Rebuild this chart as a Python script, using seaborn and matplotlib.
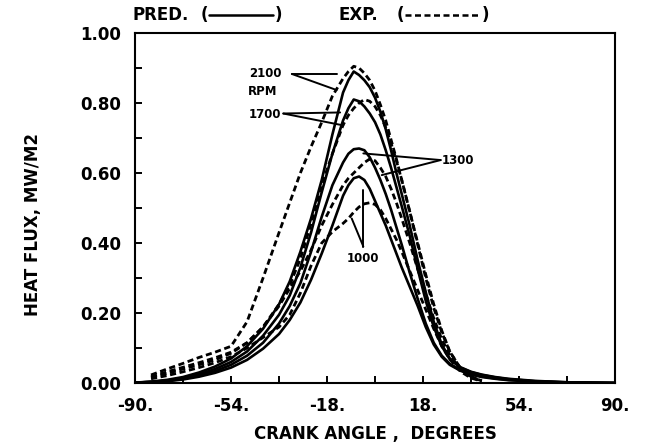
import numpy as np
import pandas as pd
import seaborn as sns
import matplotlib
matplotlib.use("Agg")
from matplotlib import pyplot as plt
from matplotlib.lines import Line2D
from matplotlib.ticker import MultipleLocator, FixedLocator, FuncFormatter

# crank angle grid (deg) shared by all curves
angle = [-90, -84, -78, -72, -66, -60, -54, -48, -42, -36, -32, -28, -24, -20, -16,
         -12, -10, -8, -6, -4, -2, 0, 2, 4, 6, 8, 10, 13, 16, 19, 22, 25, 28, 32,
         36, 40, 45, 50, 60, 72, 90]

# predicted heat flux, MW/m2 (solid)
pred_2100 = [0.001, 0.004, 0.009, 0.017, 0.03, 0.047, 0.07, 0.105, 0.155, 0.225, 0.29,
             0.375, 0.47, 0.58, 0.71, 0.83, 0.865, 0.89, 0.88, 0.865, 0.845, 0.815, 0.775,
             0.725, 0.665, 0.60, 0.54, 0.45, 0.35, 0.26, 0.175, 0.11, 0.07, 0.045, 0.032,
             0.024, 0.017, 0.012, 0.006, 0.002, 0.0]
pred_1700 = [0.001, 0.003, 0.007, 0.014, 0.025, 0.04, 0.06, 0.09, 0.135, 0.195, 0.25,
             0.33, 0.43, 0.545, 0.655, 0.75, 0.785, 0.81, 0.805, 0.79, 0.77, 0.745, 0.71,
             0.665, 0.615, 0.56, 0.505, 0.42, 0.325, 0.235, 0.16, 0.105, 0.068, 0.044, 0.031,
             0.023, 0.016, 0.011, 0.005, 0.002, 0.0]
pred_1300 = [0.001, 0.003, 0.006, 0.012, 0.021, 0.034, 0.052, 0.078, 0.115, 0.17, 0.22,
             0.285, 0.375, 0.475, 0.565, 0.63, 0.655, 0.668, 0.67, 0.665, 0.645, 0.615, 0.58,
             0.54, 0.495, 0.445, 0.395, 0.315, 0.24, 0.17, 0.115, 0.078, 0.055, 0.037, 0.026,
             0.019, 0.013, 0.009, 0.004, 0.0015, 0.0]
pred_1000 = [0.001, 0.002, 0.005, 0.01, 0.018, 0.029, 0.044, 0.066, 0.098, 0.14, 0.18,
             0.23, 0.295, 0.37, 0.45, 0.535, 0.565, 0.585, 0.59, 0.58, 0.555, 0.52, 0.485,
             0.45, 0.41, 0.37, 0.33, 0.275, 0.22, 0.16, 0.11, 0.075, 0.052, 0.035, 0.024,
             0.017, 0.012, 0.008, 0.004, 0.001, 0.0]

# measured heat flux (dashed)
nan = np.nan
exp_2100 = [nan, 0.023, 0.04, 0.056, 0.073, 0.088, 0.105, 0.175, 0.30, 0.43, 0.515,
            0.60, 0.675, 0.745, 0.82, 0.87, 0.89, 0.905, 0.90, 0.885, 0.865, 0.835, 0.795,
            0.75, 0.695, 0.64, 0.58, 0.49, 0.395, 0.30, 0.215, 0.145, 0.09, 0.042, 0.018,
            0.006, nan, nan, nan, nan, nan]
exp_1700 = [nan, 0.018, 0.032, 0.045, 0.058, 0.072, 0.088, 0.115, 0.16, 0.225, 0.28,
            0.355, 0.455, 0.565, 0.655, 0.737, 0.765, 0.785, 0.80, 0.81, 0.805, 0.79, 0.765,
            0.73, 0.685, 0.635, 0.58, 0.49, 0.40, 0.31, 0.225, 0.15, 0.09, 0.042, 0.018,
            0.006, nan, nan, nan, nan, nan]
exp_1300 = [nan, 0.016, 0.027, 0.04, 0.052, 0.066, 0.085, 0.115, 0.16, 0.22, 0.27,
            0.32, 0.38, 0.45, 0.51, 0.565, 0.585, 0.60, 0.615, 0.63, 0.64, 0.635, 0.615,
            0.59, 0.555, 0.515, 0.47, 0.40, 0.325, 0.255, 0.185, 0.125, 0.08, 0.04, 0.017,
            0.005, nan, nan, nan, nan, nan]
exp_1000 = [nan, 0.012, 0.021, 0.032, 0.044, 0.058, 0.075, 0.10, 0.13, 0.16, 0.195,
            0.257, 0.335, 0.40, 0.432, 0.456, 0.47, 0.488, 0.503, 0.512, 0.515, 0.51, 0.495,
            0.47, 0.44, 0.41, 0.375, 0.32, 0.265, 0.21, 0.155, 0.105, 0.068, 0.033, 0.014,
            0.005, nan, nan, nan, nan, nan]

pred = {"2100": pred_2100, "1700": pred_1700, "1300": pred_1300, "1000": pred_1000}
expd = {"2100": exp_2100, "1700": exp_1700, "1300": exp_1300, "1000": exp_1000}

sns.set_style("ticks")
plt.rcParams['font.family'] = ['DejaVu Sans']
plt.rcParams['font.weight'] = 'bold'
for k in ['text.color', 'axes.labelcolor', 'xtick.color', 'ytick.color', 'axes.edgecolor']:
    plt.rcParams[k] = 'black'

fig = plt.figure(figsize=(6.47, 4.42), dpi=100)
ax = fig.add_axes([0.2087, 0.1335, 0.742, 0.7918])

for rpm in pred:
    df = pd.DataFrame({"angle": angle, "flux": pred[rpm]})
    sns.lineplot(data=df, x="angle", y="flux", ax=ax, color="black", lw=1.9)
for rpm in expd:
    df = pd.DataFrame({"angle": angle, "flux": expd[rpm]}).dropna()
    sns.lineplot(data=df, x="angle", y="flux", ax=ax, color="black", lw=2.0,
                 linestyle=(0, (2.2, 1.3)))

ax.set_xlim(-90, 90)
ax.set_ylim(0, 1.0)
ax.xaxis.set_major_locator(FixedLocator([-90, -54, -18, 18, 54, 90]))
ax.xaxis.set_minor_locator(FixedLocator([-72, -36, 0, 36, 72]))
ax.xaxis.set_major_formatter(FuncFormatter(lambda v, p: "%d." % v))
ax.yaxis.set_major_locator(MultipleLocator(0.2))
ax.yaxis.set_minor_locator(MultipleLocator(0.1))
ax.yaxis.set_major_formatter(FuncFormatter(lambda v, p: "%.2f" % v))
ax.tick_params(which="both", direction="in", length=5, width=1.4, labelsize=12,
               top=False, right=False)
ax.tick_params(axis="x", pad=10)
ax.tick_params(axis="y", pad=10)
for s in ax.spines.values():
    s.set_linewidth(1.5)

ax.set_xlabel("CRANK ANGLE ,  DEGREES", fontsize=12, fontweight="bold", labelpad=7)
ax.set_ylabel("")
fig.text(33 / 647, 1 - 224 / 442, "HEAT FLUX, MW/M2", fontsize=12, fontweight="bold",
         rotation=90, ha="center", va="center")

# rpm call-outs
lk = dict(color="black", lw=1.4)
fs = 8.5
ax.text(-41.3, 0.883, "2100", fontsize=fs, fontweight="bold", ha="center", va="center")
ax.text(-42.0, 0.833, "RPM", fontsize=fs, fontweight="bold", ha="center", va="center")
ax.plot([-31.2, -14.4], [0.883, 0.883], **lk)
ax.plot([-31.2, -14.4], [0.883, 0.837], **lk)
ax.text(-41.3, 0.768, "1700", fontsize=fs, fontweight="bold", ha="center", va="center")
ax.plot([-34.4, -13.1], [0.77, 0.773], **lk)
ax.plot([-34.4, -11.9], [0.77, 0.736], **lk)
ax.text(25, 0.637, "1300", fontsize=fs, fontweight="bold", ha="left", va="center")
ax.plot([24.6, -4.4], [0.637, 0.656], **lk)
ax.plot([24.6, 2.5], [0.637, 0.594], **lk)
ax.text(-4.4, 0.355, "1000", fontsize=fs, fontweight="bold", ha="center", va="center")
ax.plot([-4.4, -4.4], [0.39, 0.551], **lk)
ax.plot([-4.4, -8.75], [0.39, 0.47], **lk)

# key above the frame
ky = 1 - 15 / 442
def fx(px):
    return px / 647
fig.text(fx(133), ky, "PRED.", fontsize=12, fontweight="bold", ha="left", va="center")
fig.text(fx(204), ky, "(", fontsize=12, fontweight="bold", ha="center", va="center")
fig.add_artist(Line2D([fx(209), fx(273)], [ky, ky], color="black", lw=1.8))
fig.text(fx(278), ky, ")", fontsize=12, fontweight="bold", ha="center", va="center")
fig.text(fx(338), ky, "EXP.", fontsize=12, fontweight="bold", ha="left", va="center")
fig.text(fx(400), ky, "(", fontsize=12, fontweight="bold", ha="center", va="center")
fig.add_artist(Line2D([fx(405), fx(481)], [ky, ky], color="black", lw=1.8,
                      linestyle=(0, (2.4, 1.4))))
fig.text(fx(485), ky, ")", fontsize=12, fontweight="bold", ha="center", va="center")

fig.savefig("out.png", dpi=100)
